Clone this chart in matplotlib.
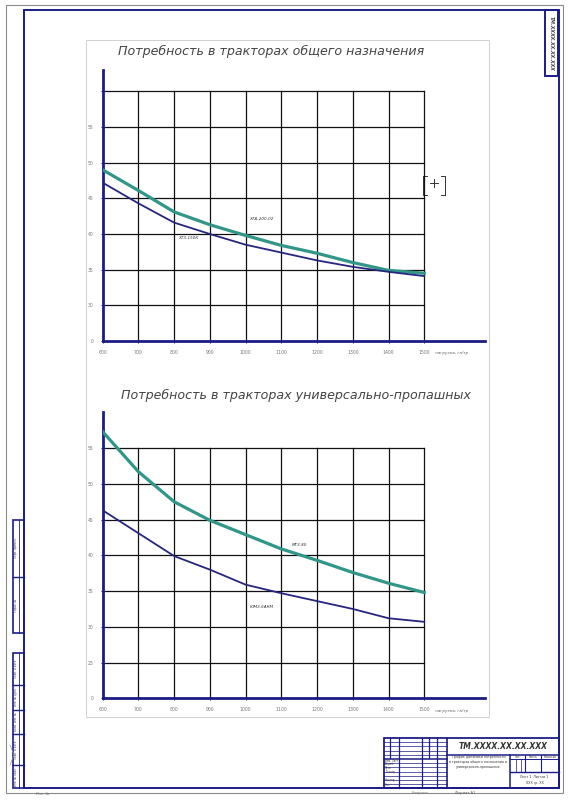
import matplotlib.pyplot as plt
from matplotlib.patches import Rectangle

# ---- data ----
x_vals = [600, 700, 800, 900, 1000, 1100, 1200, 1300, 1400, 1500]

# top chart: general purpose tractors
top_teal = [49.0, 46.1, 43.1, 41.3, 39.8, 38.4, 37.3, 36.0, 34.9, 34.5]
top_dark = [47.2, 44.3, 41.6, 40.0, 38.5, 37.4, 36.3, 35.4, 34.7, 34.1]
top_yticks = [25, 30, 35, 40, 45, 50, 55, 60]
top_ylabels = ["0", "30", "35", "40", "45", "50", "55", ""]

# bottom chart: row-crop tractors
bot_teal = [57.3, 51.7, 47.5, 44.9, 42.9, 40.9, 39.3, 37.6, 36.1, 34.8]
bot_dark = [46.3, 43.1, 39.9, 38.0, 35.9, 34.7, 33.6, 32.5, 31.2, 30.7]
bot_yticks = [20, 25, 30, 35, 40, 45, 50, 55]
bot_ylabels = ["0", "25", "30", "35", "40", "45", "50", "55"]

titles = ["Потребность в тракторах общего назначения",
          "Потребность в тракторах универсально-пропашных"]
curve_names = [("ХТА-200-02", "ХТЗ-150К"), ("МТЗ-80", "ЮМЗ-6АКМ")]
x_label = "нагрузка, га/тр"

TEAL = "#2f9688"
DARK = "#26257f"
AXC = "#1c1c86"
W, H = 570, 800

fig = plt.figure(figsize=(5.7, 8), dpi=100)
page = fig.add_axes([0, 0, 1, 1])
page.set_xlim(0, W)
page.set_ylim(H, 0)
page.axis("off")


def box(x0, y0, x1, y1, col, lw, fill=False):
    page.add_patch(Rectangle((x0, y0), x1 - x0, y1 - y0, fill=fill,
                             facecolor="white", edgecolor=col, lw=lw))


def hline(y, x0, x1, col=AXC, lw=0.8):
    page.plot([x0, x1], [y, y], color=col, lw=lw)


def vline(x, y0, y1, col=AXC, lw=0.8):
    page.plot([x, x], [y0, y1], color=col, lw=lw)


# sheet frames
box(6, 5, 563, 793, "#8a8a8a", 0.8)
box(24, 10, 559, 788, AXC, 1.4)
box(86, 40, 489, 717, "#d0d0d0", 0.7)

# rotated stamp top right
box(545, 10, 558, 76, AXC, 1.4)
page.text(551.5, 43, "ТМ.ХХХХ.ХХ.ХХ.ХХХ", rotation=270, ha="center", va="center",
          fontsize=3.4, fontweight="bold", style="italic", color="#444")

# left side strips
box(13, 520, 24, 633, AXC, 1.2)
hline(577, 13, 24, lw=1.0)
vline(18.5, 520, 633, lw=0.6)
box(13, 653, 24, 788, AXC, 1.2)
for yy in [685, 710, 734, 765]:
    hline(yy, 13, 24, lw=1.0)
vline(18.5, 653, 788, lw=0.6)
page.text(16, 548, "Перв. примен.", rotation=90, fontsize=2, ha="center", va="center", color="#445")
page.text(16, 605, "Справ. №", rotation=90, fontsize=2, ha="center", va="center", color="#445")
for yy, t in zip([669, 697, 722, 750, 777],
                 ["Подп. и дата", "Инв. № дубл.", "Взам. инв. №", "Подп. и дата", "Инв. № подл."]):
    page.text(16, yy, t, rotation=90, fontsize=2, ha="center", va="center", color="#445")
page.plot([10, 14, 10], [765, 755, 745], color="#999", lw=0.5)
page.text(42, 794, "Инв. №", fontsize=2.5, color="#777", ha="center", va="center")

# title block
box(384, 738, 559, 788, AXC, 1.3)
vline(447, 738, 788, lw=1.2)
for xx in [390, 399, 422, 429, 437]:
    vline(xx, 738, 758, lw=0.9)
for xx in [399, 422, 437]:
    vline(xx, 758, 788, lw=0.9)
for k in range(1, 12):
    yy = 738 + 4.2 * k
    hline(yy, 384, 447, lw=1.1 if k == 5 else 0.5)
hline(755, 447, 559, lw=1.1)
vline(510, 755, 788, lw=1.1)
hline(759, 510, 559, lw=0.7)
hline(772, 510, 559, lw=1.0)
vline(525, 755, 772, lw=0.8)
vline(541, 755, 772, lw=0.8)
vline(516, 759, 772, lw=0.5)
vline(521, 759, 772, lw=0.5)
page.text(503, 746.5, "ТМ.ХХХХ.ХХ.ХХ.ХХХ", ha="center", va="center",
          fontsize=5.5, fontweight="bold", style="italic", color="#333")
page.text(478.5, 762, "График динамики потребности\nв тракторах общего назначения и\nуниверсально-пропашных",
          ha="center", va="center", fontsize=2.3, color="#333", linespacing=1.3)
for xx, t in zip([517.5, 533, 550], ["Лит.", "Масса", "Масштаб"]):
    page.text(xx, 757, t, ha="center", va="center", fontsize=2, color="#333")
page.text(534.5, 777, "Лист 1  Листов 1", ha="center", va="center", fontsize=2.3, color="#333")
page.text(534.5, 783, "ХХХ гр. ХХ", ha="center", va="center", fontsize=2.3, color="#333")
for yy, t in zip([760.5, 764.5, 768.5, 772.5, 780.5, 784.5],
                 ["Изм. Лист", "Разраб.", "Пров.", "Т.контр.", "Н.контр.", "Утв."]):
    page.text(385, yy, t, ha="left", va="center", fontsize=1.8, color="#333")
page.text(465, 793, "Формат А1", ha="center", va="center", fontsize=2.5, color="#555")
page.text(420, 793, "Копировал", ha="center", va="center", fontsize=2.2, color="#777")


def chart_axes(l, t, r, b):
    return fig.add_axes([l / W, 1 - b / H, (r - l) / W, (b - t) / H])


def draw_chart(ax, yticks, ylabels, ytop, teal, dark, names, lab_pos):
    ax.set_xlim(x_vals[0], 1670)
    ax.set_ylim(yticks[0], ytop)
    ax.patch.set_alpha(0)
    for s in ["top", "right"]:
        ax.spines[s].set_visible(False)
    for s in ["left", "bottom"]:
        ax.spines[s].set_color(AXC)
        ax.spines[s].set_linewidth(2.0)
    # grid, drawn only over the plotted range
    for yv in yticks[1:]:
        ax.plot([x_vals[0], x_vals[-1]], [yv, yv], color="#111", lw=0.9, zorder=1)
    for xv in x_vals[1:]:
        ax.plot([xv, xv], [yticks[0], yticks[-1]], color="#111", lw=0.9, zorder=1)
    ax.plot(x_vals, teal, color=TEAL, lw=2.3, zorder=3, solid_joinstyle="round")
    ax.plot(x_vals, dark, color=DARK, lw=1.3, zorder=3, solid_joinstyle="round")
    ax.set_xticks(x_vals)
    ax.set_xticklabels([str(v) for v in x_vals])
    ax.set_yticks(yticks)
    ax.set_yticklabels(ylabels)
    ax.tick_params(direction="inout", length=3, width=0.7, colors=AXC,
                   labelsize=3.3, labelcolor="#777", pad=5)
    (tx, ty), (dx, dy) = lab_pos
    ax.text(tx, ty, names[0], fontsize=3, style="italic", color="#333", ha="center")
    ax.text(dx, dy, names[1], fontsize=3, style="italic", color="#333", ha="center")
    ax.text(1530, yticks[0] - (ytop - yticks[0]) * 0.045, x_label, fontsize=3,
            style="italic", color="#666", ha="left", va="center", clip_on=False)


ax1 = chart_axes(102.7, 70, 485, 341)
draw_chart(ax1, top_yticks, top_ylabels, 63, top_teal, top_dark,
           curve_names[0], ((1045, 42.0), (840, 39.3)))

ax2 = chart_axes(102.7, 411.7, 485, 698.3)
draw_chart(ax2, bot_yticks, bot_ylabels, 60.1, bot_teal, bot_dark,
           curve_names[1], ((1150, 41.3), (1045, 32.6)))

# chart titles
page.text(271, 51, titles[0], ha="center", va="center", fontsize=9.1,
          style="italic", color="#444")
page.text(296, 395, titles[1], ha="center", va="center", fontsize=9.1,
          style="italic", color="#444")

# small cursor marker near the top chart
page.plot([423, 423, 427], [176, 195, 195], color="#333", lw=0.7)
page.plot([441, 445, 445], [176, 176, 195], color="#333", lw=0.7)
page.plot([423, 427], [176, 176], color="#333", lw=0.7)
page.plot([441, 445], [195, 195], color="#333", lw=0.7)
page.plot([430, 438], [183, 183], color="#333", lw=0.7)
page.plot([434, 434], [179, 187], color="#333", lw=0.7)

fig.savefig("out.png", dpi=100, facecolor="white")
